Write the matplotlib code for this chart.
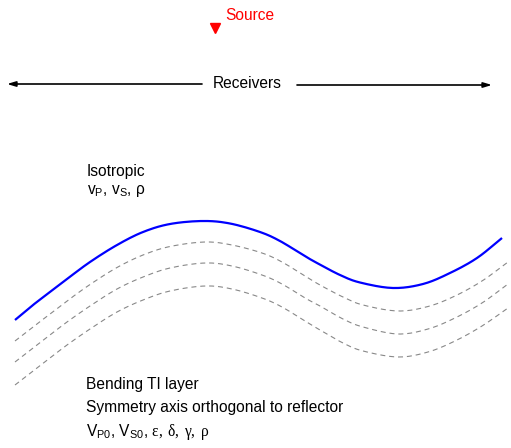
import numpy as np
import matplotlib
matplotlib.use("Agg")
import matplotlib.pyplot as plt

plt.rcParams['font.family'] = ['Liberation Sans', 'DejaVu Sans']
plt.rcParams['mathtext.fontset'] = 'custom'
plt.rcParams['mathtext.rm'] = 'Liberation Sans'
plt.rcParams['mathtext.it'] = 'Liberation Sans:italic'
plt.rcParams['mathtext.tt'] = 'Liberation Serif'

# ---- data (pixel-space positions) ----
reflector_x = [15, 33, 50, 67, 90, 117, 143, 170, 203, 230, 260, 280, 303, 317, 340, 360, 393, 423, 450, 477, 502]
reflector_y = [320, 305, 292, 279, 262, 245, 232, 224, 221, 223.5, 232, 241, 255, 263, 275, 282.5, 288, 284, 273, 258, 238]

layer_x = [15, 33, 50, 67, 90, 117, 143, 170, 205, 232, 262, 282, 305, 320, 343, 363, 398, 428, 455, 482, 508]
layer1_y = [341, 327, 314, 301, 284.5, 267.5, 255, 246.5, 242, 245, 253, 262, 276, 285, 297, 305, 311, 306.5, 296, 281, 262]
layer2_y = [362, 348, 335, 322, 306, 289, 277, 268, 263, 266, 275, 284, 298, 306, 319, 327, 334, 329, 318, 303, 284]
layer3_y = [385, 371, 358, 345, 329, 312, 300, 291, 286, 289, 298, 307, 321, 330, 343, 351, 357, 352, 341, 326, 308]

source_pos = (215, 28)
source_label = "Source"
receivers_label = "Receivers"
iso_title = "Isotropic"
iso_params = r"v$_\mathrm{P}$, v$_\mathrm{S}$, ρ"
ti_lines = ["Bending TI layer", "Symmetry axis orthogonal to reflector"]
ti_params = r"V$_\mathrm{P0}$, V$_\mathrm{S0}$, $\mathtt{ε,\:δ,\:γ,\:ρ}$"


def smooth(xs, ys, n=12):
    """Catmull-Rom smoothing through the given points (drawing only)."""
    p = np.column_stack([xs, ys]).astype(float)
    p = np.vstack([2 * p[0] - p[1], p, 2 * p[-1] - p[-2]])
    out = []
    t = np.linspace(0, 1, n, endpoint=False)[:, None]
    for i in range(1, len(p) - 2):
        p0, p1, p2, p3 = p[i - 1], p[i], p[i + 1], p[i + 2]
        seg = 0.5 * ((2 * p1) + (-p0 + p2) * t + (2 * p0 - 5 * p1 + 4 * p2 - p3) * t ** 2
                     + (-p0 + 3 * p1 - 3 * p2 + p3) * t ** 3)
        out.append(seg)
    out.append(p[-2][None, :])
    out = np.vstack(out)
    return out[:, 0], out[:, 1]


fig = plt.figure(figsize=(5.11, 4.48), dpi=100)
ax = fig.add_axes([0, 0, 1, 1])
ax.set_xlim(0, 511)
ax.set_ylim(448, 0)
ax.axis('off')

fs = 11.2

# reflector
sx, sy = smooth(reflector_x, reflector_y)
ax.plot(sx, sy, color='blue', lw=1.6, solid_capstyle='butt', solid_joinstyle='round')

for ly in (layer1_y, layer2_y, layer3_y):
    lx, lyy = smooth(layer_x, ly)
    ax.plot(lx, lyy, color='#888888', lw=0.8, dashes=(4.5, 3.5))

# source
ax.plot([source_pos[0]], [source_pos[1]], marker='v', color='red', markersize=7, linestyle='none')
ax.text(225, 20, source_label, color='red', fontsize=fs, ha='left', va='baseline')

# receivers
ax.text(247, 84, receivers_label, fontsize=fs, ha='center', va='center')
arrow_kw = dict(arrowstyle='-|>,head_length=0.5,head_width=0.15', color='black', lw=1.2,
                shrinkA=0, shrinkB=0)
ax.annotate('', xy=(7, 84), xytext=(202, 84), arrowprops=arrow_kw)
ax.annotate('', xy=(492, 85), xytext=(297, 85), arrowprops=arrow_kw)

# isotropic labels
ax.text(87, 176, iso_title, fontsize=fs, ha='left', va='baseline')
ax.text(87, 194, iso_params, fontsize=fs, ha='left', va='baseline')

# TI labels
ax.text(86, 389, ti_lines[0], fontsize=fs, ha='left', va='baseline')
ax.text(86, 412, ti_lines[1], fontsize=fs, ha='left', va='baseline')
ax.text(86, 436, ti_params, fontsize=fs, ha='left', va='baseline')

fig.savefig('out.png', dpi=100)
